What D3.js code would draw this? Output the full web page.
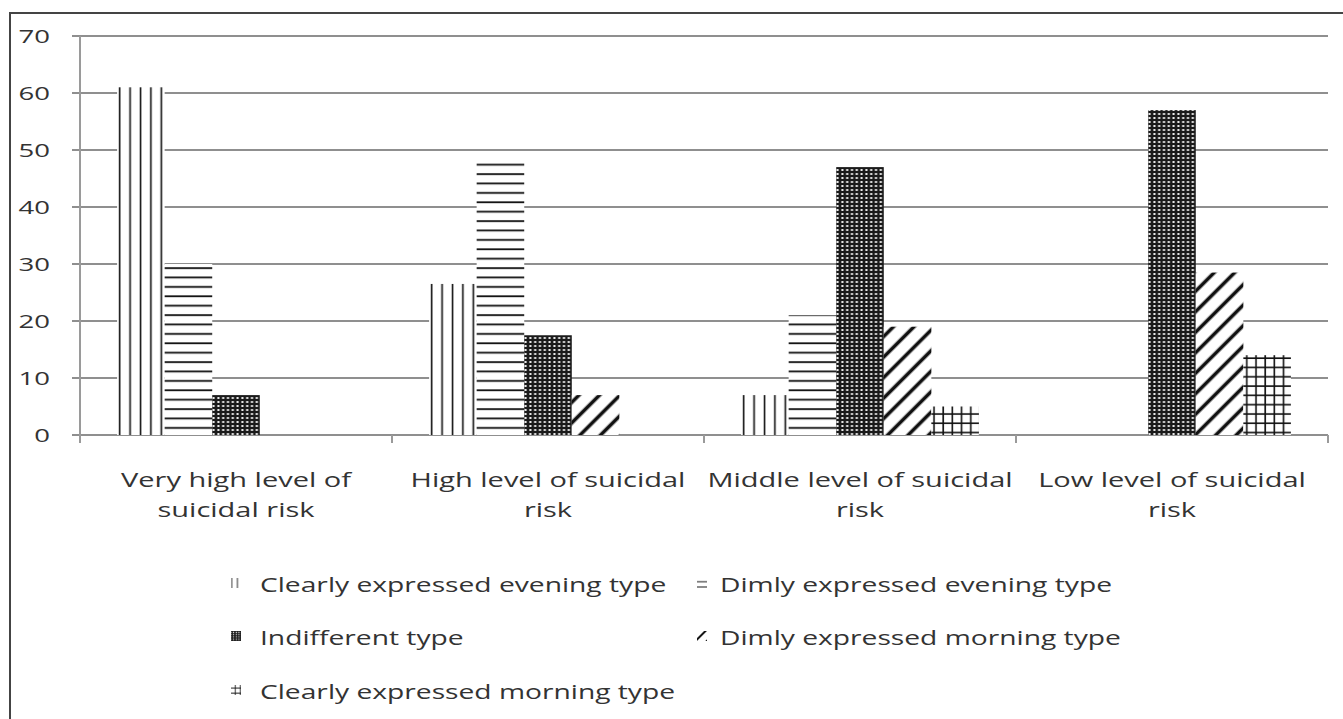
<!DOCTYPE html>
<html>
<head>
<meta charset="utf-8">
<script src="https://cdn.jsdelivr.net/npm/d3@7"></script>
<style>
  html, body { margin: 0; padding: 0; background: #fff; }
  svg { display: block; }
  text { font-family: "Open Sans", "DejaVu Sans", sans-serif; fill: #333; }
</style>
</head>
<body>
<svg id="chart" width="1343" height="719"></svg>
<script>
// Chronotype distribution by level of suicidal risk (%)
const categories = [
  ["Very high level of", "suicidal risk"],
  ["High level of suicidal", "risk"],
  ["Middle level of suicidal", "risk"],
  ["Low level of suicidal", "risk"]
];
const seriesNames = [
  "Clearly expressed evening type",
  "Dimly expressed evening type",
  "Indifferent type",
  "Dimly expressed morning type",
  "Clearly expressed morning type"
];
const clearlyEvening = [61, 26.5, 7, 0];
const dimlyEvening   = [30, 48, 21, 0];
const indifferent    = [7, 17.5, 47, 57];
const dimlyMorning   = [0, 7, 19, 28.5];
const clearlyMorning = [0, 0, 5, 14];
const yTicks = [0, 10, 20, 30, 40, 50, 60, 70];

const seriesValues = [clearlyEvening, dimlyEvening, indifferent, dimlyMorning, clearlyMorning];
const patternIds = ["pVert", "pHoriz", "pDots", "pDiag", "pGrid"];

const svg = d3.select("#chart");
const LABEL_STRETCH = 1.45;
const LEGEND_STRETCH = 1.41;

// ---- hatch patterns (full size for bars, small for legend swatches) ----
const defs = svg.append("defs");

function pattern(id, w, h, transform) {
  const p = defs.append("pattern")
    .attr("id", id).attr("patternUnits", "userSpaceOnUse")
    .attr("width", w).attr("height", h);
  if (transform) p.attr("patternTransform", transform);
  p.append("rect").attr("width", w).attr("height", h).attr("fill", "#fff");
  return p;
}
function buildPatterns(suffix, k, ox, oy) {
  const tr = `translate(${ox},${oy}) scale(${k})`;
  // vertical lines
  pattern("pVert" + suffix, 10.4, 10, tr).append("rect")
    .attr("x", 4.5).attr("y", 0).attr("width", 1.6).attr("height", 10).attr("fill", "#111");
  // horizontal lines
  pattern("pHoriz" + suffix, 10, 9.4, tr).append("rect")
    .attr("x", 0).attr("y", 4).attr("width", 10).attr("height", 1.8).attr("fill", "#111");
  // dense dark mesh with light holes
  {
    const p = pattern("pDots" + suffix, 4.8, 4, tr);
    p.append("rect").attr("width", 4.8).attr("height", 4).attr("fill", "#1a1a1a");
    p.append("rect").attr("x", 1.4).attr("y", 1).attr("width", 2).attr("height", 2).attr("fill", "#f2f2f2");
  }
  // thick forward diagonal stripes
  pattern("pDiag" + suffix, 14.5, 14.5, `${tr} rotate(45)`).append("rect")
    .attr("x", 5.5).attr("y", 0).attr("width", 3.6).attr("height", 14.5).attr("fill", "#111");
  // square grid
  {
    const p = pattern("pGrid" + suffix, 9.2, 9.3, tr);
    p.append("rect").attr("x", 4).attr("y", 0).attr("width", 1.6).attr("height", 9.3).attr("fill", "#111");
    p.append("rect").attr("x", 0).attr("y", 4).attr("width", 9.2).attr("height", 1.6).attr("fill", "#111");
  }
}
buildPatterns("", 1, 0, 0);
buildPatterns("-sm", 0.55, 0, 0);

// ---- frame ----
svg.append("line").attr("x1", 10).attr("y1", 13).attr("x2", 1343).attr("y2", 13)
  .attr("stroke", "#444").attr("stroke-width", 2);
svg.append("line").attr("x1", 10).attr("y1", 12).attr("x2", 10).attr("y2", 719)
  .attr("stroke", "#444").attr("stroke-width", 2);

// ---- scales ----
const plotLeft = 80, plotRight = 1328, plotTop = 36, plotBottom = 435;
const x0 = d3.scaleBand().domain(d3.range(categories.length)).range([plotLeft, plotRight]).padding(0);
const x1 = d3.scaleBand().domain(d3.range(seriesNames.length)).range([0, x0.bandwidth()])
  .paddingInner(0).paddingOuter(0.78);
const y = d3.scaleLinear().domain([0, 70]).range([plotBottom, plotTop]);

// ---- gridlines ----
svg.append("g").selectAll("line").data(yTicks).join("line")
  .attr("x1", plotLeft - 8).attr("x2", plotRight)
  .attr("y1", d => y(d)).attr("y2", d => y(d))
  .attr("stroke", "#8f8f8f").attr("stroke-width", 2);

// y axis line and category ticks
svg.append("line").attr("x1", plotLeft).attr("x2", plotLeft)
  .attr("y1", plotTop).attr("y2", plotBottom + 8)
  .attr("stroke", "#9a9a9a").attr("stroke-width", 2);
const bounds = d3.range(categories.length + 1).map(i => i < categories.length ? x0(i) : plotRight);
svg.append("g").selectAll("line").data(bounds).join("line")
  .attr("x1", d => d).attr("x2", d => d)
  .attr("y1", plotBottom).attr("y2", plotBottom + 8)
  .attr("stroke", "#9a9a9a").attr("stroke-width", 2);

// y tick labels
svg.append("g").selectAll("text").data(yTicks).join("text")
  .attr("transform", d => `translate(50,${y(d) + 7}) scale(${LABEL_STRETCH},1)`)
  .attr("text-anchor", "end")
  .attr("font-size", 19)
  .text(d => d);

// ---- bars ----
const bars = svg.append("g");
seriesValues.forEach((vals, s) => {
  bars.append("g").selectAll("rect")
    .data(vals.map((v, c) => ({ v, c })).filter(d => d.v > 0))
    .join("rect")
    .attr("x", d => x0(d.c) + x1(s))
    .attr("width", x1.bandwidth())
    .attr("y", d => y(d.v))
    .attr("height", d => y(0) - y(d.v))
    .attr("fill", `url(#${patternIds[s]})`);
});

// ---- category labels ----
const catG = svg.append("g");
categories.forEach((lines, i) => {
  const cx = x0(i) + x0.bandwidth() / 2;
  lines.forEach((ln, j) => {
    catG.append("text")
      .attr("transform", `translate(${cx},${487 + j * 30}) scale(${LABEL_STRETCH},1)`)
      .attr("text-anchor", "middle")
      .attr("font-size", 20)
      .text(ln);
  });
});

// ---- legend ----
const legendSwatchX = [231, 697];
const legendTextX = [260, 720];
const legendRows = [585, 638, 692];
const legend = svg.append("g");
seriesNames.forEach((name, i) => {
  const col = i % 2, row = Math.floor(i / 2);
  const ly = legendRows[row];
  legend.append("rect")
    .attr("x", legendSwatchX[col]).attr("y", ly - 7).attr("width", 10).attr("height", 10)
    .attr("fill", `url(#${patternIds[i]}-sm)`);
  legend.append("text")
    .attr("transform", `translate(${legendTextX[col]},${ly + 7}) scale(${LEGEND_STRETCH},1)`)
    .attr("font-size", 20)
    .text(name);
});
</script>
</body>
</html>
